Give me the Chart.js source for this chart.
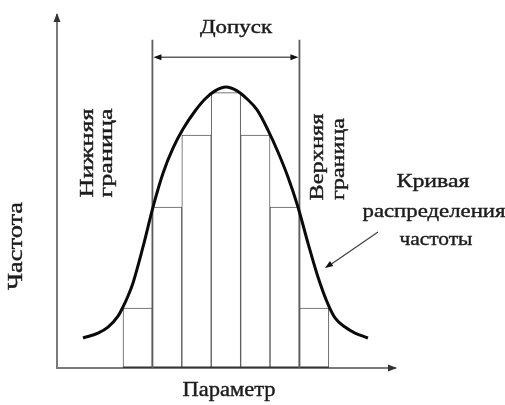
<!DOCTYPE html>
<html>
<head>
<meta charset="utf-8">
<script src="https://cdn.jsdelivr.net/npm/chart.js@4.4.1/dist/chart.umd.min.js"></script>
<style>
  html, body { margin: 0; padding: 0; background: #fff; }
  #wrap { width: 505px; height: 405px; }
</style>
</head>
<body>
<div id="wrap"><canvas id="c"></canvas></div>
<script>
// ── Histogram bins (centre, in bin widths) and heights ──
const binCentres = [0.5, 1.5, 2.5, 3.5, 4.5, 5.5, 6.5];
const binHeights = [17, 45.6, 66, 78, 66, 45.6, 17];

// ── Frequency curve ──
const curveX = [-1.36, -0.85, -0.51, -0.17, 0, 0.17, 0.34, 0.68, 1.02, 1.36, 1.70, 2.04, 2.45, 2.79, 3.13, 3.50,
                3.88, 4.22, 4.56, 4.93, 5.27, 5.61, 5.95, 6.29, 6.63, 6.97, 7.21, 7.55, 7.89, 8.33];
const curveY = [8.5, 9.9, 11.6, 14.7, 17.3, 20.4, 24.1, 34.3, 45.6, 55.2, 62.3, 67.7, 72.8, 76.2, 78.5, 79.6,
                78.5, 76.2, 73.1, 67.4, 61.2, 54.1, 45.6, 35.4, 25.8, 18.1, 14.2, 11.6, 9.9, 8.5];

// ── Tolerance limits ──
const tolLimits = [1, 6];
const tolTop = 93;
const tolArrowY = 88;

// ── Range of the base line under the bins ──
const binRange = [0, 7];

const INK = '#1c1c1c';
const GREY = '#5e5e5e';
const SERIF = '"Liberation Serif", "DejaVu Serif", serif';

function arrowHead(ctx, x, y, ang, len, half) {
  ctx.save();
  ctx.translate(x, y);
  ctx.rotate(ang);
  ctx.beginPath();
  ctx.moveTo(0, 0);
  ctx.lineTo(-len, -half);
  ctx.lineTo(-len, half);
  ctx.closePath();
  ctx.fill();
  ctx.restore();
}

// text squeezed/stretched to the width it has in the picture
function fitText(ctx, str, x, y, width, size, rot) {
  ctx.save();
  ctx.font = size + 'px ' + SERIF;
  ctx.textAlign = 'center';
  ctx.textBaseline = 'alphabetic';
  const w = ctx.measureText(str).width;
  ctx.translate(x, y);
  if (rot) ctx.rotate(rot);
  ctx.scale(width / w, 1);
  ctx.fillText(str, 0, 0);
  ctx.lineWidth = 0.4;
  ctx.strokeStyle = ctx.fillStyle;
  ctx.strokeText(str, 0, 0);
  ctx.restore();
}

const decor = {
  id: 'decor',
  afterDraw(chart) {
    const { ctx, chartArea: a, scales: { x, y } } = chart;
    ctx.save();
    ctx.fillStyle = '#333';
    // axis arrows
    arrowHead(ctx, a.left, a.top - 2, -Math.PI / 2, 9, 3.5);
    arrowHead(ctx, a.right + 2, a.bottom, 0, 9, 3.5);

    // tolerance arrow
    const xl = x.getPixelForValue(tolLimits[0]);
    const xr = x.getPixelForValue(tolLimits[1]);
    const ya = y.getPixelForValue(tolArrowY);
    ctx.strokeStyle = GREY;
    ctx.lineWidth = 1.5;
    ctx.beginPath();
    ctx.moveTo(xl + 4, ya);
    ctx.lineTo(xr - 4, ya);
    ctx.stroke();
    ctx.fillStyle = '#111';
    arrowHead(ctx, xl + 1, ya, Math.PI, 8, 3);
    arrowHead(ctx, xr - 1, ya, 0, 8, 3);

    // pointer to the curve
    ctx.strokeStyle = '#444';
    ctx.lineWidth = 1.3;
    ctx.beginPath();
    ctx.moveTo(378, 232);
    ctx.lineTo(330, 265);
    ctx.stroke();
    arrowHead(ctx, 325, 268, Math.atan2(268 - 232, 325 - 378), 8, 3);

    // texts
    ctx.fillStyle = INK;
    const up = -Math.PI / 2;
    fitText(ctx, 'Допуск', 236, 33, 72, 18);
    fitText(ctx, 'Нижняя', 93, 153, 89, 19, up);
    fitText(ctx, 'граница', 112, 153, 89, 19, up);
    fitText(ctx, 'Верхняя', 323, 157, 87, 19, up);
    fitText(ctx, 'граница', 344, 159, 82, 19, up);
    fitText(ctx, 'Кривая', 433, 187, 73, 19);
    fitText(ctx, 'распределения', 434, 217, 143, 19);
    fitText(ctx, 'частоты', 436, 245, 73, 19);
    fitText(ctx, 'Частота', 22, 246, 88, 20, up);
    fitText(ctx, 'Параметр', 229, 396, 93, 20);
    ctx.restore();
  }
};

new Chart(document.getElementById('c'), {
  type: 'line',
  data: {
    datasets: [
      {
        label: 'Кривая распределения',
        data: curveX.map((v, i) => ({ x: v, y: curveY[i] })),
        borderColor: '#0a0a0a',
        borderWidth: 3,
        pointRadius: 0,
        cubicInterpolationMode: 'monotone',
        fill: false,
        order: 0
      },
      {
        label: 'Нижняя граница',
        data: [{ x: tolLimits[0], y: 0 }, { x: tolLimits[0], y: tolTop }],
        borderColor: GREY,
        borderWidth: 1.8,
        pointRadius: 0,
        order: 1
      },
      {
        label: 'Верхняя граница',
        data: [{ x: tolLimits[1], y: 0 }, { x: tolLimits[1], y: tolTop }],
        borderColor: GREY,
        borderWidth: 1.8,
        pointRadius: 0,
        order: 1
      },
      {
        label: 'base',
        data: [{ x: binRange[0], y: 0 }, { x: binRange[1], y: 0 }],
        borderColor: '#333',
        borderWidth: 3,
        pointRadius: 0,
        order: 1
      },
      {
        type: 'bar',
        label: 'Частота',
        data: binCentres.map((v, i) => ({ x: v, y: binHeights[i] })),
        backgroundColor: '#ffffff',
        borderColor: '#5a5a5a',
        borderWidth: { top: 1, left: 1, right: 1, bottom: 0 },
        borderSkipped: false,
        barPercentage: 1,
        categoryPercentage: 1,
        order: 2
      }
    ]
  },
  options: {
    responsive: true,
    maintainAspectRatio: false,
    animation: false,
    layout: { padding: { left: 57, top: 15, right: 110, bottom: 37 } },
    plugins: { legend: { display: false }, tooltip: { enabled: false } },
    scales: {
      x: {
        type: 'linear', min: -2.245, max: 9.25, offset: false,
        grid: { display: false, drawTicks: false },
        ticks: { display: false },
        border: { display: true, color: '#7a7a7a', width: 2 }
      },
      y: {
        type: 'linear', min: 0, max: 100,
        grid: { display: false, drawTicks: false },
        ticks: { display: false },
        border: { display: true, color: '#7a7a7a', width: 2 }
      }
    }
  },
  plugins: [decor]
});
</script>
</body>
</html>
